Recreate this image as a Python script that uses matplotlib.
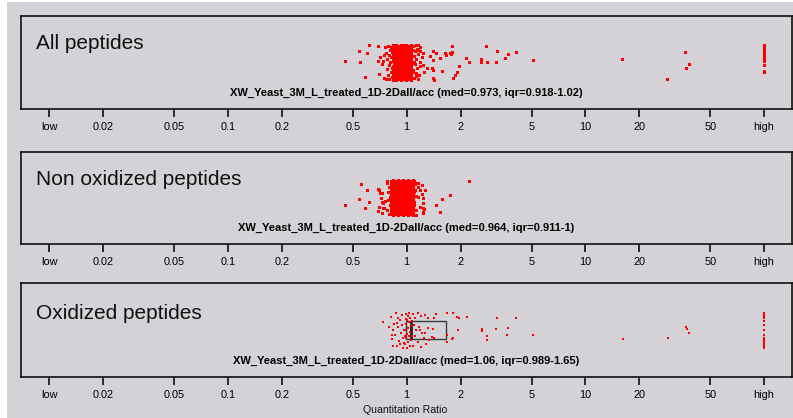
import matplotlib
matplotlib.use("Agg")
import matplotlib.pyplot as plt
from matplotlib.patches import Rectangle
from matplotlib.ticker import FixedLocator, FixedFormatter, NullLocator

plt.rcParams['font.family'] = ['Liberation Sans', 'DejaVu Sans']

# ---------------- data ----------------
titles = ["All peptides", "Non oxidized peptides", "Oxidized peptides"]
run_name = "XW_Yeast_3M_L_treated_1D-2Dall/acc"
medians = [0.973, 0.964, 1.06]
iqr_low = [0.918, 0.911, 0.989]
iqr_high = [1.02, 1.0, 1.65]
iqr_high_text = ["1.02", "1", "1.65"]

tick_values = [0.01, 0.02, 0.05, 0.1, 0.2, 0.5, 1, 2, 5, 10, 20, 50, 100]
tick_labels = ["low", "0.02", "0.05", "0.1", "0.2", "0.5", "1", "2", "5", "10", "20", "50", "high"]
HIGH_VALUE = 100   # ratios reported as "high"

# Panel 1 : All peptides -------------------------------------------
p1_core_ratio = [
    0.843, 0.846, 0.841, 0.845, 0.848, 0.842, 0.844, 0.847, 0.840, 0.845, 0.843, 0.846, 0.841, 0.844,
    0.870, 0.873, 0.868, 0.872, 0.869, 0.874, 0.871, 0.867, 0.872, 0.870, 0.875, 0.869, 0.871, 0.873, 0.868,
    0.899, 0.902, 0.897, 0.901, 0.903, 0.898, 0.900, 0.904, 0.896, 0.901, 0.899, 0.902, 0.897, 0.900,
    0.928, 0.931, 0.926, 0.930, 0.927, 0.932, 0.929, 0.925, 0.930, 0.928, 0.933, 0.927, 0.929, 0.931, 0.926,
    0.959, 0.962, 0.957, 0.961, 0.963, 0.958, 0.960, 0.964, 0.956, 0.961, 0.959, 0.962, 0.957, 0.960,
    0.990, 0.993, 0.988, 0.992, 0.989, 0.994, 0.991, 0.987, 0.992, 0.990, 0.995, 0.989, 0.991, 0.993, 0.988,
    1.022, 1.025, 1.020, 1.024, 1.026, 1.021, 1.023, 1.027, 1.019, 1.024, 1.022, 1.025, 1.020, 1.023,
    1.056, 1.059, 1.054, 1.058, 1.055, 1.060, 1.057, 1.053, 1.058, 1.056, 1.061, 1.055, 1.057, 1.059, 1.054,
]
p1_core_jitter = [
    0.96, 0.82, 0.68, 0.53, 0.39, 0.24, 0.09, -0.06, -0.21, -0.35, -0.49, -0.64, -0.79, -0.93,
    0.99, 0.88, 0.74, 0.60, 0.45, 0.31, 0.16, 0.02, -0.13, -0.27, -0.42, -0.56, -0.71, -0.85, -0.98,
    0.95, 0.81, 0.67, 0.52, 0.38, 0.23, 0.08, -0.06, -0.20, -0.35, -0.50, -0.64, -0.78, -0.94,
    0.98, 0.87, 0.73, 0.59, 0.46, 0.31, 0.17, 0.01, -0.13, -0.28, -0.42, -0.57, -0.71, -0.86, -0.98,
    0.96, 0.82, 0.67, 0.54, 0.38, 0.24, 0.10, -0.05, -0.20, -0.36, -0.49, -0.63, -0.78, -0.93,
    0.99, 0.88, 0.74, 0.59, 0.45, 0.30, 0.16, 0.02, -0.12, -0.27, -0.41, -0.56, -0.70, -0.85, -0.97,
    0.95, 0.82, 0.68, 0.53, 0.39, 0.25, 0.09, -0.06, -0.21, -0.34, -0.49, -0.64, -0.79, -0.92,
    0.98, 0.88, 0.73, 0.60, 0.44, 0.31, 0.16, 0.03, -0.13, -0.27, -0.42, -0.55, -0.71, -0.84, -0.98,
]
p1_ratio = [
    0.452, 0.541, 0.550, 0.582, 0.613, 0.597, 0.688, 0.688, 0.700, 0.709, 0.724, 0.740, 0.750, 0.748,
    0.76, 0.77, 0.775, 0.78, 0.785, 0.79, 0.795, 0.80, 0.80, 0.805, 0.81, 0.815, 0.82, 0.82, 0.825,
    0.83, 0.83, 0.835, 0.835, 0.84, 0.84, 0.77,
    1.09, 1.09, 1.10, 1.10, 1.11, 1.11, 1.12, 1.12, 1.13, 1.14, 1.14, 1.15, 1.16, 1.17, 1.18, 1.19,
    1.10, 1.13, 1.085, 1.085, 1.085,
    1.161, 1.187, 1.213, 1.239, 1.250, 1.294, 1.350, 1.397, 1.409, 1.380, 1.409, 1.459, 1.536, 1.570,
    1.660, 1.763, 1.786, 1.799, 1.905, 1.863, 1.809, 1.969, 2.138, 2.223, 2.594, 2.594, 2.778, 2.802,
    3.16, 3.19, 3.55, 3.68, 4.07, 5.07, 15.96, 28.5, 36.1, 37.8, 36.4,
    1.187, 1.239, 1.161, 1.409, 1.420, 1.637, 1.747,
]
p1_jitter = [
    0.10, 0.66, 0.04, -0.79, 0.97, 0.54, 0.92, 0.10, -0.64, 0.32, -0.08, 0.10, 0.42, -0.88,
    0.85, 0.55, -0.35, 0.18, -0.70, 0.95, 0.40, -0.15, -0.92, 0.70, 0.05, -0.55, 0.88, 0.30, -0.30,
    -0.80, 0.60, 0.10, -0.98, 0.45, -0.65, -0.95,
    0.90, -0.40, 0.35, -0.85, 0.65, -0.10, 0.98, -0.60, 0.20, -0.30, 0.75, -0.95, 0.45, -0.70, 0.05, -0.20,
    0.05, -0.75, 0.70, -0.05, -0.55,
    0.97, 0.64, 0.32, -0.14, -0.51, -0.31, 0.38, 0.64, 0.14, -0.32, -0.88, 0.51, 0.27, -0.47,
    0.42, 0.46, 0.92, 0.57, -0.51, -0.69, -0.84, -0.18, 0.27, 0.04, 0.21, 0.03, 0.93, 0.04,
    0.01, 0.66, 0.27, 0.49, 0.60, 0.14, 0.21, -0.90, 0.57, -0.10, -0.32,
    0.88, 0.51, 0.69, -0.42, -0.97, 0.51, 0.51,
]
p1_high_jitter = [0.97, 0.90, 0.83, 0.75, 0.64, 0.53, 0.42, 0.31, 0.19, 0.08, -0.14, -0.47, -0.51]

# Panel 2 : Non oxidized peptides ----------------------------------
p2_core_ratio = [
    0.816, 0.819, 0.815, 0.818, 0.820, 0.814, 0.817, 0.819, 0.813, 0.818, 0.816, 0.819, 0.815, 0.817,
    0.843, 0.846, 0.841, 0.845, 0.842, 0.847, 0.844, 0.840, 0.845, 0.843, 0.848, 0.842, 0.844, 0.846, 0.841,
    0.870, 0.873, 0.868, 0.872, 0.874, 0.869, 0.871, 0.875, 0.867, 0.872, 0.870, 0.873, 0.868, 0.871,
    0.899, 0.902, 0.897, 0.901, 0.898, 0.903, 0.900, 0.896, 0.901, 0.899, 0.904, 0.898, 0.900, 0.902, 0.897,
    0.928, 0.931, 0.926, 0.930, 0.932, 0.927, 0.929, 0.933, 0.925, 0.930, 0.928, 0.931, 0.926, 0.929,
    0.959, 0.962, 0.957, 0.961, 0.958, 0.963, 0.960, 0.956, 0.961, 0.959, 0.964, 0.958, 0.960, 0.962, 0.957,
    0.990, 0.993, 0.988, 0.992, 0.994, 0.989, 0.991, 0.995, 0.987, 0.992, 0.990, 0.993, 0.988, 0.991,
    1.022, 1.025, 1.020, 1.024, 1.021, 1.026, 1.023, 1.019, 1.024, 1.022, 1.027, 1.021, 1.023, 1.025, 1.020,
    1.056, 1.059, 1.054, 1.058, 1.060, 1.055, 1.057, 1.061, 1.053, 1.058, 1.056, 1.059, 1.054, 1.057,
    1.088, 1.091, 1.086, 1.090, 1.087, 1.092, 1.089, 1.085, 1.090, 1.088, 1.093, 1.087, 1.089, 1.091, 1.086,
]
p2_core_jitter = [
    0.95, 0.82, 0.67, 0.53, 0.39, 0.24, 0.10, -0.06, -0.21, -0.35, -0.50, -0.64, -0.79, -0.93,
    0.99, 0.87, 0.74, 0.59, 0.45, 0.31, 0.17, 0.02, -0.13, -0.28, -0.42, -0.56, -0.71, -0.85, -0.98,
    0.96, 0.81, 0.68, 0.53, 0.38, 0.24, 0.09, -0.05, -0.21, -0.35, -0.49, -0.65, -0.78, -0.93,
    0.98, 0.88, 0.73, 0.60, 0.45, 0.30, 0.16, 0.02, -0.12, -0.27, -0.43, -0.56, -0.70, -0.86, -0.97,
    0.96, 0.82, 0.67, 0.54, 0.39, 0.23, 0.09, -0.06, -0.20, -0.34, -0.50, -0.63, -0.79, -0.94,
    0.99, 0.87, 0.74, 0.60, 0.44, 0.31, 0.16, 0.01, -0.13, -0.27, -0.42, -0.57, -0.71, -0.85, -0.98,
    0.95, 0.82, 0.68, 0.53, 0.38, 0.25, 0.09, -0.06, -0.21, -0.35, -0.49, -0.64, -0.78, -0.93,
    0.98, 0.88, 0.73, 0.59, 0.45, 0.30, 0.17, 0.02, -0.12, -0.28, -0.41, -0.56, -0.71, -0.84, -0.98,
    0.96, 0.81, 0.67, 0.53, 0.39, 0.24, 0.10, -0.05, -0.20, -0.35, -0.50, -0.64, -0.79, -0.92,
    0.99, 0.87, 0.74, 0.60, 0.45, 0.31, 0.16, 0.02, -0.13, -0.27, -0.42, -0.56, -0.70, -0.85, -0.97,
]
p2_ratio = [
    0.452, 0.555, 0.541, 0.585, 0.602, 0.618,
    0.700, 0.709, 0.718, 0.724, 0.688, 0.702, 0.740, 0.756, 0.779, 0.694, 0.724, 0.734, 0.694, 0.724, 0.750,
    0.78, 0.79, 0.795, 0.80, 0.805, 0.81, 0.785, 0.775,
    1.10, 1.10, 1.11, 1.12, 1.12, 1.13, 1.115,
    1.161, 1.223, 1.266, 1.137, 1.161, 1.187, 1.213, 1.239, 1.229, 1.250, 1.239,
    1.161, 1.187, 1.229, 1.239, 1.229,
    1.459, 1.536, 1.582, 1.747, 2.240,
]
p2_jitter = [
    -0.42, 0.75, -0.08, -0.60, 0.42, -0.27,
    0.46, 0.27, 0.01, -0.23, -0.75, -0.51, -0.60, -0.18, -0.69, 0.47, 0.27, -0.32, -0.75, -0.88, -0.60,
    0.85, 0.30, -0.90, 0.62, -0.40, 0.05, -0.15, 0.95,
    0.92, -0.25, 0.45, -0.70, 0.10, -0.95, 0.75,
    0.82, 0.69, 0.42, 0.82, 0.60, 0.42, 0.19, -0.04, -0.32, -0.66, -0.79,
    0.04, -0.51, -0.60, -0.88, -0.04,
    -0.42, -0.82, -0.08, 0.14, 0.92,
]

# Panel 3 : Oxidized peptides --------------------------------------
p3_ratio = [
    0.740, 0.814, 0.824, 0.841, 0.879, 0.841, 0.860, 0.894, 0.917, 0.941, 0.905, 0.882, 0.929,
    0.953, 0.917, 0.871, 0.941, 0.966, 0.966, 0.894, 0.849, 0.953, 0.828, 0.796,
    0.991, 1.017, 1.043, 1.004, 1.030, 0.991, 1.057, 1.017, 0.978, 1.043, 1.004, 1.030, 0.991,
    1.057, 1.017, 0.978, 1.043, 1.004, 1.030, 0.991, 1.071, 0.978, 1.071,
    1.085, 1.113, 1.157, 1.202, 1.266, 1.316, 1.099, 1.127, 1.172, 1.219, 1.187, 1.266, 1.316,
    1.397, 1.421, 1.380, 1.333, 1.250, 1.157, 1.113, 1.085, 1.197, 1.283,
    1.421, 1.459, 1.674, 1.809, 1.905, 1.969, 2.166, 1.823, 1.929, 1.686, 1.799, 1.681,
    2.628, 2.628, 2.802, 2.827, 3.21, 3.16, 3.63, 3.70, 4.11, 5.11, 16.2, 28.9, 36.4, 37.8, 36.9,
]
p3_jitter = [
    0.46, 0.74, -0.28, -0.89, 0.37, 0.00, -0.28, 0.17, 0.56, 0.83, -0.61, -0.89, -0.17,
    -0.44, -0.78, 0.92, 0.28, 0.00, -0.72, 0.67, 0.33, -0.98, -0.50, 0.17,
    0.89, 0.78, 0.67, 0.56, 0.44, 0.33, 0.22, 0.11, 0.00, -0.11, -0.22, -0.33, -0.44,
    -0.56, -0.67, -0.78, -0.89, -0.98, 0.94, 0.61, 0.50, -0.33, -0.33,
    0.89, 0.67, 0.94, 0.78, 0.83, 0.67, 0.28, 0.00, 0.17, -0.17, 0.00, -0.18, 0.11,
    0.04, -0.44, -0.37, -0.56, -0.44, -0.67, -0.33, -0.89, -0.96, -0.78,
    0.68, 0.87, 0.96, 0.93, 0.74, 0.65, 0.71, -0.46, 0.00, -0.68, -0.50, -0.28,
    0.04, -0.06, -0.32, -0.56, 0.65, 0.06, -0.28, 0.09, 0.65, -0.29, -0.52, -0.46, 0.15, -0.15, 0.04,
]
p3_high_jitter = [0.93, 0.85, 0.78, 0.67, 0.50, 0.28, 0.00, -0.28, -0.44, -0.56, -0.67, -0.78, -0.89, -0.98]

panel_core_ratio = [p1_core_ratio, p2_core_ratio, []]
panel_core_jitter = [p1_core_jitter, p2_core_jitter, []]
panel_ratio = [p1_ratio, p2_ratio, p3_ratio]
panel_jitter = [p1_jitter, p2_jitter, p3_jitter]
panel_high_jitter = [p1_high_jitter, [], p3_high_jitter]

# ---------------- layout ----------------
W, H = 793, 418
BG = '#d4d2d6'
fig = plt.figure(figsize=(W / 100, H / 100), dpi=100, facecolor=BG)
# thin white border at the left and top edges of the picture
fig.patches.append(Rectangle((0, 0), 7 / W, 1, transform=fig.transFigure,
                             facecolor='white', edgecolor='none', zorder=-10))
fig.patches.append(Rectangle((0, 1 - 2 / H), 1, 2 / H, transform=fig.transFigure,
                             facecolor='white', edgecolor='none', zorder=-10))

left_px, right_px = 21.3, 791.7
panel_tb = [(16.0, 109.0), (151.7, 243.7), (283.3, 376.7)]
title_y = [0.64, 0.64, 0.62]
marker_px = [3.0, 3.0, 2.7]

for i in range(3):
    top, bot = panel_tb[i]
    ax = fig.add_axes([left_px / W, 1 - bot / H, (right_px - left_px) / W, (bot - top) / H])
    ax.set_facecolor(BG)
    ax.set_xscale('log')
    ax.set_xlim(0.00697, 142.7)
    ax.set_ylim(-2.6, 2.6)
    ax.set_yticks([])
    ax.xaxis.set_major_locator(FixedLocator(tick_values))
    ax.xaxis.set_major_formatter(FixedFormatter(tick_labels))
    ax.xaxis.set_minor_locator(NullLocator())
    ax.tick_params(axis='x', direction='out', length=5.8, width=1.1, pad=3.5,
                   labelsize=7.8, colors='black')
    for s in ax.spines.values():
        s.set_linewidth(1.1)
        s.set_color('black')

    # IQR box and median
    bh = 0.49
    ax.add_patch(Rectangle((iqr_low[i], -bh), iqr_high[i] - iqr_low[i], 2 * bh,
                           facecolor='none', edgecolor='#3a3a3a', lw=1.0, zorder=1))
    ax.plot([medians[i], medians[i]], [-bh, bh], color='#222222', lw=2.0, zorder=1,
            solid_capstyle='butt')

    ms = marker_px[i] * 0.72
    kw = dict(linestyle='none', marker='s', markersize=ms, markeredgewidth=0,
              color='#ff0000', zorder=3)
    if panel_core_ratio[i]:
        ax.plot(panel_core_ratio[i], panel_core_jitter[i], **kw)
    ax.plot(panel_ratio[i], panel_jitter[i], **kw)
    if panel_high_jitter[i]:
        ax.plot([HIGH_VALUE] * len(panel_high_jitter[i]), panel_high_jitter[i], **kw)

    ax.text(0.0195, title_y[i], titles[i], transform=ax.transAxes, fontsize=15,
            va='baseline', ha='left', color='#111111')
    sub = f"{run_name} (med={medians[i]:g}, iqr={iqr_low[i]:g}-{iqr_high_text[i]})"
    ax.text(0.5, 0.172, sub, transform=ax.transAxes, fontsize=8, fontweight='bold',
            ha='center', va='center', color='black')

fig.text(405.4 / W, 1 - 410 / H, "Quantitation Ratio", ha='center', va='center',
         fontsize=7.6, color='#111111')

fig.savefig("out.png", dpi=100, facecolor=fig.get_facecolor())
